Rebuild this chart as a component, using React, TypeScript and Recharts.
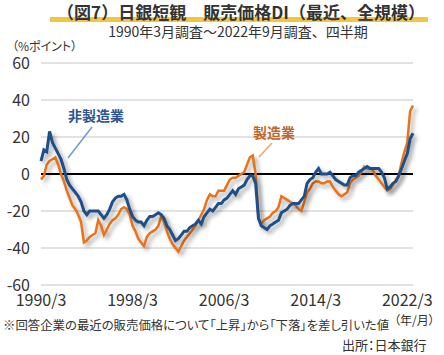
import { LineChart, Line, XAxis, YAxis, CartesianGrid, ReferenceLine } from "recharts";

// 1990/3 .. 2022/9, quarterly
const quarterLabels = Array.from({ length: 131 }, (_, i) => `${1990 + Math.floor(i / 4)}/${[3, 6, 9, 12][i % 4]}`);

const nonManufacturing = [
  7, 13, 12, 23, 17, 14, 11, 8, 3, -3, -6, -8, -10, -12, -15, -20,
  -22, -20, -20, -20, -20, -22, -24, -22, -19, -15, -13, -12, -12, -11, -14, -19,
  -23, -25, -26, -26, -28, -25, -23, -23, -22, -21, -22, -24, -28, -30, -33, -36,
  -35, -33, -31, -31, -29, -28, -27, -25, -27, -23, -21, -19, -20, -18, -16, -16,
  -14, -13, -11, -9, -11, -8, -7, -6, -3, -1, -1, -5, -24, -28, -29, -30,
  -28, -27, -26, -25, -21, -20, -19, -17, -16, -16, -16, -14, -12, -5, -3, -2,
  1, 3, 0, 0, 0, 1, -1, -3, -4, -5, -6, -6, -2, -1, -1, 1,
  2, 3, 4, 3, 3, 3, 3, 1, -2, -8, -7, -5, -4, -1, 3, 7,
  11, 19, 22,
];

const manufacturing = [
  -3, -1, 5, 7, 8, 9, 5, 0, -4, -9, -13, -17, -19, -22, -26, -37,
  -36, -34, -33, -32, -25, -28, -33, -30, -27, -25, -24, -22, -19, -18, -19, -22,
  -28, -31, -35, -37, -39, -34, -32, -31, -30, -28, -23, -26, -31, -35, -38, -40,
  -42, -39, -36, -34, -32, -30, -28, -25, -22, -19, -14, -11, -12, -12, -9, -9,
  -9, -6, -3, -2, -2, -1, 0, 1, 5, 9, 10, 0, -24, -27, -25, -24,
  -23, -21, -20, -18, -12, -13, -14, -15, -16, -17, -19, -20, -15, -10, -8, -5,
  -4, -4, -5, -5, -4, -4, -7, -9, -11, -12, -11, -10, -5, -3, -2, -1,
  1, 4, 3, 3, 2, -1, -3, -5, -7, -9, -8, -6, -3, -1, 6, 12,
  17, 34, 37,
];

const xTicks = ["1990/3", "1998/3", "2006/3", "2014/3", "2022/3"];
const yTicks = [-60, -40, -20, 0, 20, 40, 60];

const data = quarterLabels.map((q, i) => ({
  q,
  nonMfg: nonManufacturing[i],
  mfg: manufacturing[i],
}));

const font = '"Noto Sans CJK JP", "Noto Sans", sans-serif';
const textColor = "#333";
const palt = { fontFeatureSettings: '"palt"' } as const;

export default function App() {
  return (
    <div style={{ position: "relative", width: 444, height: 355, background: "#fff", fontFamily: font, color: textColor, overflow: "hidden" }}>
      <style>{`
        body { margin: 0; }
        .recharts-line { filter: drop-shadow(3px 3px 2px rgba(0,0,0,0.35)); }
      `}</style>

      {/* title with yellow marker */}
      <div style={{ position: "absolute", left: 50, top: 17, width: 378, height: 5, background: "#f3c63f" }} />
      <div style={{ position: "absolute", left: 52, top: 3, width: 378, textAlign: "center", fontSize: 17, fontWeight: 700, lineHeight: "18px", whiteSpace: "nowrap" }}>
        （図7）日銀短観　販売価格DI（最近、全規模）
      </div>
      <div style={{ position: "absolute", left: 0, top: 24, width: 476, textAlign: "center", fontSize: 14, lineHeight: "15px", whiteSpace: "nowrap" }}>
        1990年3月調査～2022年9月調査、四半期
      </div>
      <div style={{ position: "absolute", left: 12, top: 39, fontSize: 12, lineHeight: "13px", ...palt }}>（%ポイント）</div>

      <div style={{ position: "absolute", left: 0, top: 0 }}>
        <LineChart width={444} height={355} data={data} margin={{ top: 63, right: 31, bottom: 45, left: 11 }}>
          <CartesianGrid vertical={false} stroke="#d9d9d9" strokeWidth={1.5} />
          <XAxis
            dataKey="q"
            ticks={xTicks}
            interval={0}
            axisLine={false}
            tickLine={false}
            tickSize={0}
            tickMargin={10}
            height={25}
            tick={{ fill: textColor, fontSize: 16, fontFamily: font }}
          />
          <YAxis
            domain={[-60, 60]}
            ticks={yTicks}
            width={30}
            axisLine={false}
            tickLine={false}
            tickSize={0}
            tickMargin={11}
            tick={{ fill: textColor, fontSize: 16, fontFamily: font }}
          />
          <ReferenceLine y={0} stroke="#000" strokeWidth={2} />
          <Line type="linear" dataKey="mfg" stroke="#ea7318" strokeWidth={2.5} dot={false} isAnimationActive={false} />
          <Line type="linear" dataKey="nonMfg" stroke="#1d4f8b" strokeWidth={3} dot={false} isAnimationActive={false} />
        </LineChart>
      </div>

      {/* series annotations */}
      <svg width={444} height={355} style={{ position: "absolute", left: 0, top: 0, pointerEvents: "none" }}>
        <line x1={92} y1={127} x2={68} y2={158} stroke="#6f9bd0" strokeWidth={1.5} />
        <line x1={272} y1={143} x2={259} y2={157} stroke="#f2a468" strokeWidth={1.5} />
      </svg>
      <div style={{ position: "absolute", left: 68, top: 107, fontSize: 14, fontWeight: 700, color: "#2a5590", lineHeight: "16px" }}>非製造業</div>
      <div style={{ position: "absolute", left: 253, top: 124, fontSize: 14, fontWeight: 700, color: "#c0662a", lineHeight: "16px" }}>製造業</div>

      {/* notes */}
      <div style={{ position: "absolute", left: 3, top: 318, fontSize: 12.4, lineHeight: "14px", whiteSpace: "nowrap", ...palt }}>
        ※回答企業の最近の販売価格について「上昇」から「下落」を差し引いた値
      </div>
      <div style={{ position: "absolute", left: 394, top: 313, fontSize: 12, lineHeight: "14px", whiteSpace: "nowrap", ...palt }}>（年/月）</div>
      <div style={{ position: "absolute", left: 342, top: 337, fontSize: 13, lineHeight: "15px", whiteSpace: "nowrap", ...palt }}>出所：日本銀行</div>
    </div>
  );
}
